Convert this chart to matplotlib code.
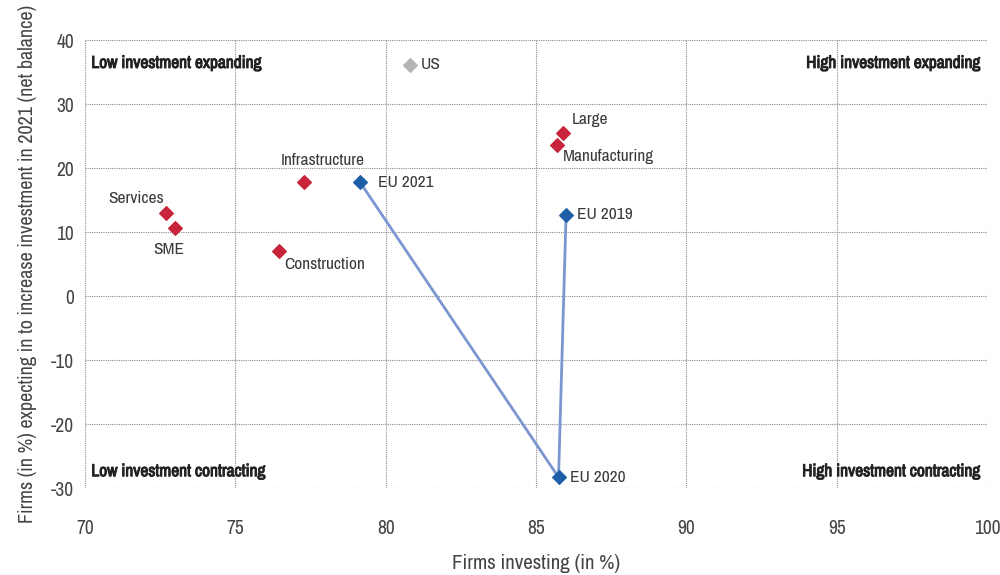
import matplotlib
matplotlib.use("Agg")
import matplotlib.pyplot as plt
from matplotlib import font_manager as fm
import matplotlib.patheffects as pe

# pick a condensed face if one is installed
fam = "Liberation Sans"
stretch = "normal"
for f in fm.fontManager.ttflist:
    if "Narrow" in f.name or "Condensed" in f.name:
        fam = f.name
        break
else:
    for f in fm.fontManager.ttflist:
        if f.stretch in ("condensed", "semi-condensed", "extra-condensed") and f.name in ("Roboto", "Open Sans", "Noto Sans", "Inter", "Lato"):
            fam = f.name
            stretch = f.stretch
            break
plt.rcParams['font.family'] = [fam, 'DejaVu Sans']
plt.rcParams['font.stretch'] = stretch
plt.rcParams['axes.unicode_minus'] = False

# Data
sector_labels = ["Services", "SME", "Construction", "Infrastructure", "Large", "Manufacturing"]
sector_x = [72.7, 73.0, 76.45, 77.3, 85.9, 85.7]
sector_y = [13.0, 10.6, 7.0, 17.8, 25.5, 23.6]

eu_labels = ["EU 2019", "EU 2020", "EU 2021"]
eu_x = [86.0, 85.75, 79.15]
eu_y = [12.7, -28.3, 17.8]

us_label = "US"
us_x = [80.8]
us_y = [36.2]

x_ticks = [70, 75, 80, 85, 90, 95, 100]
y_ticks = [-30, -20, -10, 0, 10, 20, 30, 40]

fig = plt.figure(figsize=(10, 5.75), dpi=100)
ax = fig.add_axes([0.085, 0.151, 0.902, 0.779])
ax.set_xlim(70, 100)
ax.set_ylim(-30, 40)
ax.set_xticks(x_ticks)
ax.set_yticks(y_ticks)
for s in ax.spines.values():
    s.set_visible(False)
ax.grid(True, color="#8a8a8a", linestyle=(0, (1, 1)), linewidth=0.8)
ax.set_axisbelow(True)
ax.tick_params(length=0, labelsize=14, labelcolor="#444444")
ax.tick_params(axis="x", pad=22)
ax.tick_params(axis="y", pad=8)

ax.plot(eu_x, eu_y, color="#7b96d0", linewidth=2, zorder=2)
ax.scatter(eu_x, eu_y, marker="D", s=48, color="#1f5fa8", zorder=3)
ax.scatter(sector_x, sector_y, marker="D", s=48, color="#c8243c", zorder=3)
ax.scatter(us_x, us_y, marker="D", s=48, color="#b4b4b4", zorder=3)

lab_kw = dict(fontsize=12.5, color="#3a3a3a")
offsets = {
    "Services": (-2, 5, "right", "bottom"),
    "SME": (-5, -10, "center", "top"),
    "Construction": (4, -4, "left", "top"),
    "Infrastructure": (-17, 10, "left", "bottom"),
    "Large": (6, 4, "left", "bottom"),
    "Manufacturing": (4, -3, "left", "top"),
}
for lab, x, y in zip(sector_labels, sector_x, sector_y):
    dx, dy, ha, va = offsets[lab]
    ax.annotate(lab, (x, y), xytext=(dx, dy), textcoords="offset points", ha=ha, va=va, **lab_kw)

eu_off = {"EU 2019": (8, 0), "EU 2020": (8, 0), "EU 2021": (13, 0)}
for lab, x, y in zip(eu_labels, eu_x, eu_y):
    dx, dy = eu_off[lab]
    ax.annotate(lab, (x, y), xytext=(dx, dy), textcoords="offset points", ha="left", va="center", **lab_kw)
ax.annotate(us_label, (us_x[0], us_y[0]), xytext=(8, 0), textcoords="offset points", ha="left", va="center", **lab_kw)

q_kw = dict(fontsize=12.5, fontweight="bold", color="#222222",
            path_effects=[pe.withStroke(linewidth=0.7, foreground="#222222")])
ax.text(0.007, 0.965, "Low investment expanding", transform=ax.transAxes, ha="left", va="top", **q_kw)
ax.text(0.993, 0.965, "High investment expanding", transform=ax.transAxes, ha="right", va="top", **q_kw)
ax.text(0.007, 0.02, "Low investment contracting", transform=ax.transAxes, ha="left", va="bottom", **q_kw)
ax.text(0.993, 0.02, "High investment contracting", transform=ax.transAxes, ha="right", va="bottom", **q_kw)

ax.set_xlabel("Firms investing (in %)", fontsize=15, color="#444444", labelpad=12)
ax.set_ylabel("Firms (in %) expecting in to increase investment in 2021 (net balance)", fontsize=14.5, color="#444444", labelpad=10)

fig.savefig("out.png", dpi=100)
